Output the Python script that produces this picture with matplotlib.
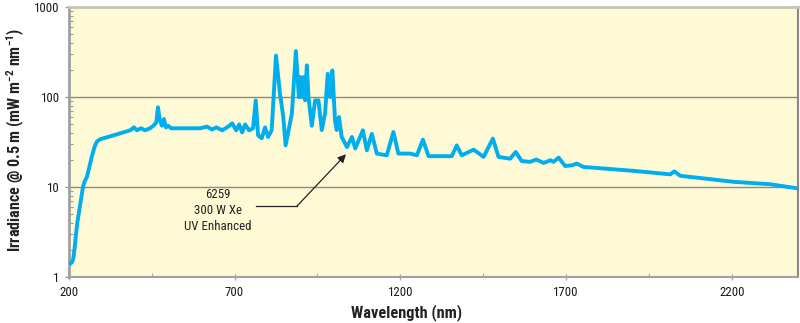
import matplotlib
matplotlib.use("Agg")
import matplotlib.pyplot as plt
from matplotlib import font_manager
from matplotlib.ticker import FixedLocator, LogLocator, NullFormatter


def _w(v):
    if isinstance(v, str):
        return font_manager.weight_dict.get(v, 400)
    return int(v)


# pick a narrow sans font (with a bold face) if one is installed
_fl = font_manager.fontManager.ttflist
_fams = {}
for _f in _fl:
    if ('Narrow' in _f.name or 'Condensed' in _f.name) and 'Mono' not in _f.name:
        _fams.setdefault(_f.name, set()).add(_w(_f.weight))
_cands = [n for n, ws in _fams.items() if max(ws) >= 700 and min(ws) <= 400]
_pref = ['Liberation Sans Narrow', 'Roboto Condensed', 'Open Sans Condensed', 'Noto Sans Condensed']
_cands.sort(key=lambda n: (_pref.index(n) if n in _pref else 99, n))
FAMILY = _cands[0] if _cands else 'Liberation Sans'
plt.rcParams['font.family'] = [FAMILY, 'DejaVu Sans']
plt.rcParams['mathtext.default'] = 'regular'

wavelength = [200, 205, 210, 214, 218, 222, 226, 230, 235, 240, 243, 248, 255, 262, 270, 278,
              285, 295, 325, 355, 385, 397,
              406, 418, 430, 445, 455, 464, 469, 475, 481, 487, 493, 500, 509, 596, 617, 632,
              645, 663, 681, 693, 705, 714, 723, 732, 744, 756, 764, 771, 782, 792, 801, 812,
              825, 837, 847, 854, 873, 885, 894, 898, 903, 908, 913, 918, 923, 933, 943, 953,
              963, 973, 981, 988, 995, 1003, 1008, 1015, 1023, 1039, 1054, 1064, 1087, 1099,
              1114, 1129, 1159, 1179, 1194, 1230, 1250, 1268, 1285, 1355, 1370, 1385, 1421,
              1451, 1479, 1496, 1531, 1548, 1566, 1591, 1610, 1632, 1652, 1662, 1677, 1697,
              1717, 1732, 1752, 1903, 2014, 2026, 2044, 2205, 2316, 2400]
irradiance = [1.42, 1.40, 1.45, 1.6, 2.1, 3.0, 4.0, 5.0, 6.5, 8.5, 10, 11.5, 13, 16.5, 22, 28,
              32, 34, 36.6, 39.5, 42.7, 46,
              42.7, 45, 42.7, 45, 48, 52, 77, 55, 48, 57, 46, 48, 45, 45, 47, 43.5,
              46, 42.7, 47, 51, 42.7, 49.6, 40.5, 49.6, 42.7, 45, 92, 37.6, 34.8, 46, 36, 42.7,
              290, 110, 60, 29, 66, 326, 100, 167, 100, 167, 92, 226, 100, 48, 92, 92,
              43, 66, 182, 100, 198, 55, 43, 60, 36, 27.8, 36, 26.8, 42.7, 25.6,
              39, 23.5, 22.5, 40.9, 23.5, 23.5, 22.5, 33.6, 22, 22, 29, 22.5, 26,
              21.6, 34.5, 21.6, 20.6, 24.5, 19.4, 19, 20.2, 18.5, 19.8, 19, 21.2, 17.1,
              17.4, 18.2, 16.7, 15.1, 13.8, 14.9, 13.3, 11.4, 10.7, 9.6]

x_ticks = [200, 700, 1200, 1700, 2200]
y_ticks = [1, 10, 100, 1000]
y_tick_labels = ['1', '10', '100', '1000']
label_text = "6259\n300 W Xe\nUV Enhanced"

W, H = 800, 323
fig = plt.figure(figsize=(W / 100, H / 100), dpi=100)
ax = fig.add_axes([0.0859, 0.1433, 0.912, 0.834])
ax.set_facecolor('#FFFAD6')

ax.set_yscale('log')
ax.set_xlim(200, 2400)
ax.set_ylim(1, 1000)

for gy in [10, 100]:
    ax.axhline(gy, color='#8a8a80', lw=1.0, zorder=1)

ax.plot(wavelength, irradiance, color='#00AEEF', lw=2.8, solid_joinstyle='round',
        solid_capstyle='round', zorder=3)

ax.xaxis.set_major_locator(FixedLocator(x_ticks))
ax.xaxis.set_minor_locator(FixedLocator([450, 950, 1450, 1950]))
ax.set_xticklabels([str(t) for t in x_ticks])
ax.yaxis.set_major_locator(FixedLocator(y_ticks))
ax.set_yticklabels(y_tick_labels)
ax.yaxis.set_minor_locator(LogLocator(base=10, subs=range(2, 10)))
ax.yaxis.set_minor_formatter(NullFormatter())

tick_fs = 10
ax.tick_params(axis='y', which='major', direction='out', length=3, width=1, color='#999999',
               labelsize=tick_fs, labelcolor='#1a1a1a', pad=3.5)
ax.tick_params(axis='y', which='minor', direction='in', length=3, width=0.8, color='#999999')
ax.tick_params(axis='x', which='major', direction='inout', length=5, width=1, color='#aaaaaa',
               labelsize=tick_fs, labelcolor='#1a1a1a', pad=4)
ax.tick_params(axis='x', which='minor', direction='in', length=3, width=0.8, color='#aaaaaa')

ax.spines['left'].set_color('#a0a0a0')
ax.spines['left'].set_linewidth(2.0)
ax.spines['bottom'].set_color('#a0a0a0')
ax.spines['bottom'].set_linewidth(1.5)
ax.spines['right'].set_color('#888888')
ax.spines['right'].set_linewidth(1.5)
ax.spines['top'].set_color('#c4c4b8')
ax.spines['top'].set_linewidth(2.0)

xl = ax.set_xlabel('Wavelength (nm)', fontsize=12, fontweight='bold', color='#222222')
yl = ax.set_ylabel('Irradiance @ 0.5 m (mW m$^{-2}$ nm$^{-1}$)', fontsize=12,
                   fontweight='bold', color='#222222')
ax.xaxis.set_label_coords(0.4637, -0.105)
ax.yaxis.set_label_coords(-0.064, 0.5)

# annotation
ann = ax.text(650, 5.45, label_text, ha='center', va='center', fontsize=10, color='#222222',
              linespacing=1.3, zorder=4)
ax.plot([764, 888], [6.1, 6.1], color='#222222', lw=0.9, zorder=4)
ax.annotate('', xy=(1036, 23.1), xytext=(888, 6.1),
            arrowprops=dict(arrowstyle='-|>', color='#222222', lw=0.9,
                            mutation_scale=12, shrinkA=0, shrinkB=0), zorder=4)

# ---- fit text sizes to the reference's measured extents (pixels) ----
fig.canvas.draw()
r = fig.canvas.get_renderer()


def _scale(t, target, dim):
    bb = t.get_window_extent(r)
    cur = bb.width if dim == 'w' else bb.height
    if cur > 0:
        t.set_fontsize(t.get_fontsize() * target / cur)


_scale(xl, 111, 'w')
_scale(yl, 224, 'h')
_scale(ann, 67, 'w')
_t1200 = ax.get_xticklabels()[2]
_bb = _t1200.get_window_extent(r)
if _bb.width > 0:
    tick_fs = tick_fs * 25 / _bb.width
    ax.tick_params(axis='both', which='major', labelsize=tick_fs)

fig.canvas.draw()
ax_bb = ax.get_window_extent(r)
# position labels by their centers
bb = yl.get_window_extent(r)
cx = (bb.x0 + bb.x1) / 2
cy = (bb.y0 + bb.y1) / 2
lx, ly = -0.064, 0.5
lx += (16 - cx) / ax_bb.width
ly += ((H - 140) - cy) / ax_bb.height
ax.yaxis.set_label_coords(lx, ly)

bb = xl.get_window_extent(r)
cx = (bb.x0 + bb.x1) / 2
cy = (bb.y0 + bb.y1) / 2
mx, my = 0.4637, -0.105
mx += (407 - cx) / ax_bb.width
my += ((H - 313) - cy) / ax_bb.height
ax.xaxis.set_label_coords(mx, my)

fig.savefig('out.png', dpi=100)
